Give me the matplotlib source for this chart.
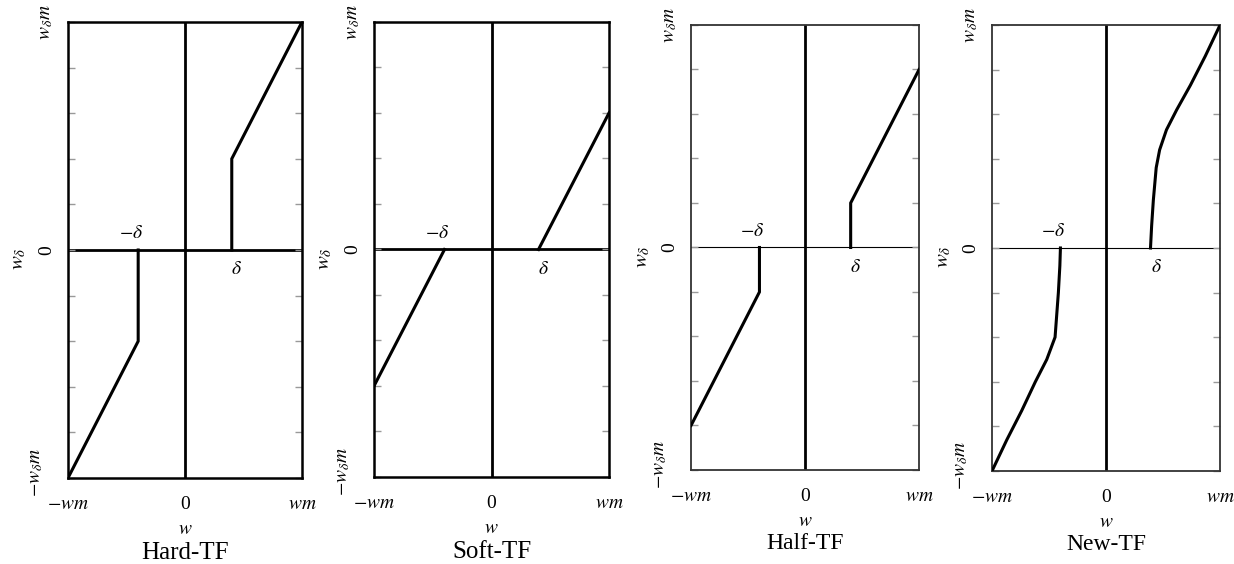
import matplotlib
matplotlib.use("Agg")
import matplotlib.pyplot as plt
from matplotlib.transforms import ScaledTranslation

plt.rcParams["font.family"] = ["Liberation Serif", "DejaVu Serif"]
plt.rcParams["mathtext.fontset"] = "stix"

# threshold level (fraction of wm)
DELTA = 0.4

# Hard-TF branches (w, w_delta)
hard_neg_w = [-1.0, -0.4, -0.4]
hard_neg_y = [-1.0, -0.4, 0.0]
hard_pos_w = [0.4, 0.4, 1.0]
hard_pos_y = [0.0, 0.4, 1.0]

# Soft-TF branches
soft_neg_w = [-1.0, -0.4]
soft_neg_y = [-0.6, 0.0]
soft_pos_w = [0.4, 1.0]
soft_pos_y = [0.0, 0.6]

# Half-TF branches
half_neg_w = [-1.0, -0.4, -0.4]
half_neg_y = [-0.8, -0.2, 0.0]
half_pos_w = [0.4, 0.4, 1.0]
half_pos_y = [0.0, 0.2, 0.8]

# New-TF branches
new_neg_w = [-1.0, -0.87, -0.74, -0.62, -0.52, -0.447, -0.418, -0.405, -0.40]
new_neg_y = [-1.0, -0.86, -0.73, -0.60, -0.50, -0.40, -0.20, -0.08, 0.0]
new_pos_w = [0.39, 0.40, 0.415, 0.44, 0.47, 0.53, 0.62, 0.74, 0.87, 1.0]
new_pos_y = [0.0, 0.10, 0.215, 0.36, 0.44, 0.53, 0.62, 0.73, 0.86, 1.0]

titles = ["Hard-TF", "Soft-TF", "Half-TF", "New-TF"]
ytick_vals = [-1.0, -0.8, -0.6, -0.4, -0.2, 0.0, 0.2, 0.4, 0.6, 0.8, 1.0]
ytick_labels = [r"$-w_{\delta}m$", "", "", "", "", "0", "", "", "", "", r"$w_{\delta}m$"]
xtick_vals = [-1.0, 0.0, 1.0]
xtick_labels = [r"$-wm$", "0", r"$wm$"]

series = [
    (hard_neg_w, hard_neg_y, hard_pos_w, hard_pos_y),
    (soft_neg_w, soft_neg_y, soft_pos_w, soft_pos_y),
    (half_neg_w, half_neg_y, half_pos_w, half_pos_y),
    (new_neg_w, new_neg_y, new_pos_w, new_pos_y),
]

# axes rectangles in figure fractions
rects = [
    [0.0551, 0.1525, 0.1896, 0.8085],
    [0.3031, 0.1543, 0.1904, 0.8067],
    [0.5600, 0.1667, 0.1848, 0.7890],
    [0.8039, 0.1649, 0.1848, 0.7908],
]

fig = plt.figure(figsize=(12.34, 5.64), dpi=100)

for i, (rect, title, data) in enumerate(zip(rects, titles, series)):
    ax = fig.add_axes(rect)
    nw, ny, pw, py = data
    bold_frame = i < 2

    ax.set_xlim(-1, 1)
    ax.set_ylim(-1, 1)

    # zero axes
    ax.axvline(0, color="black", lw=2.0, zorder=1)
    ax.axhline(0, color="black", lw=2.0 if bold_frame else 0.8, zorder=1)

    ax.plot(nw, ny, color="black", lw=2.2, solid_joinstyle="miter", zorder=3)
    ax.plot(pw, py, color="black", lw=2.2, solid_joinstyle="miter", zorder=3)

    for sp in ax.spines.values():
        sp.set_linewidth(1.8 if bold_frame else 1.3)
        sp.set_color("black" if bold_frame else "#333333")

    ax.set_yticks(ytick_vals)
    ax.set_yticklabels(ytick_labels, rotation=90, va="center", fontsize=14)
    ax.tick_params(axis="y", direction="in", length=5, width=1.0, color="#999999",
                   left=True, right=True, pad=9)
    ax.set_xticks(xtick_vals)
    ax.set_xticklabels(xtick_labels, fontsize=14)
    ax.tick_params(axis="x", length=0, pad=13)

    # nudge the bottom y label up/left so it clears the x labels
    bottom_lab = ax.get_yticklabels()[0]
    bottom_lab.set_transform(bottom_lab.get_transform()
                             + ScaledTranslation(-0.10, 0.06, fig.dpi_scale_trans))

    ax.set_ylabel(r"$w_{\delta}$", fontsize=15)
    ax.yaxis.set_label_coords(-0.17, 0.48)
    ax.set_xlabel(r"$w$", fontsize=14, labelpad=6)
    ax.set_title(title, y=-0.197 if bold_frame else -0.196,
                 fontsize=18 if bold_frame else 17)

    ax.text(-DELTA - 0.06, 0.035, r"$-\delta$", ha="center", va="bottom", fontsize=14)
    ax.text(DELTA + 0.04, -0.05, r"$\delta$", ha="center", va="top", fontsize=14)

fig.savefig("out.png", dpi=100)
